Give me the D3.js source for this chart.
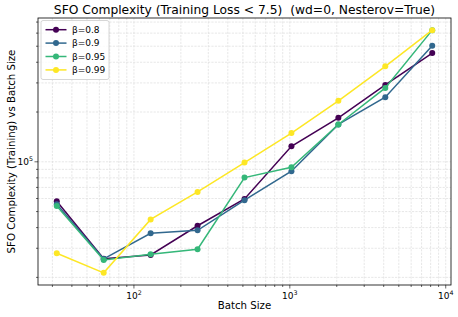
<!DOCTYPE html>
<html>
<head>
<meta charset="utf-8">
<script src="https://cdn.jsdelivr.net/npm/d3@7"></script>
<style>
  body { margin: 0; background: #fff; }
  svg { font-family: "DejaVu Sans", sans-serif; }
</style>
</head>
<body>
<div id="chart"></div>
<script>
const WIDTH = 458;
const HEIGHT = 317;
const margins = [38, 7, 18, 32]; // izquierda, derecha, arriba, abajo

// datos
const batchSizes = [32, 64, 128, 256, 512, 1024, 2048, 4096, 8192];
const betas = ["β=0.8", "β=0.9", "β=0.95", "β=0.99"];
const colores = ["#440154", "#31688e", "#35b779", "#fde725"];
const sfo_08 = [57800, 25970, 27350, 41050, 59600, 124000, 184600, 291800, 454600];
const sfo_09 = [55460, 25870, 36940, 38510, 58620, 87680, 168200, 245700, 503300];
const sfo_095 = [53950, 25520, 27600, 29580, 80300, 92660, 168200, 279900, 625600];
const sfo_099 = [28000, 21300, 44850, 65780, 98900, 149100, 233700, 377700, 625600];
const xTicks = [100, 1000, 10000];
const yTicks = [100000];

const series = [sfo_08, sfo_09, sfo_095, sfo_099].map((vals, i) => ({
  name: betas[i],
  color: colores[i],
  points: vals.map((v, j) => ({ x: batchSizes[j], y: v }))
}));

const SVG = d3.select("#chart").append("svg")
  .attr("width", WIDTH).attr("height", HEIGHT);

// dominios con 5% de margen en escala log (como matplotlib)
function logDomain(values) {
  const lo = Math.log10(d3.min(values)), hi = Math.log10(d3.max(values));
  const pad = (hi - lo) * 0.05;
  return [Math.pow(10, lo - pad), Math.pow(10, hi + pad)];
}
const allY = [].concat(sfo_08, sfo_09, sfo_095, sfo_099);

const x = d3.scaleLog()
  .domain(logDomain(batchSizes))
  .range([margins[0], WIDTH - margins[1]]);
const y = d3.scaleLog()
  .domain(logDomain(allY))
  .range([HEIGHT - margins[3], margins[2]]);

const plotLeft = margins[0], plotRight = WIDTH - margins[1];
const plotTop = margins[2], plotBottom = HEIGHT - margins[3];

// ticks menores
function minorTicks(domain) {
  const out = [];
  for (let e = Math.floor(Math.log10(domain[0])); e <= Math.ceil(Math.log10(domain[1])); e++) {
    for (let m = 1; m < 10; m++) {
      const v = m * Math.pow(10, e);
      if (v >= domain[0] && v <= domain[1]) out.push(v);
    }
  }
  return out;
}
const xAll = minorTicks(x.domain());
const yAll = minorTicks(y.domain());

// grilla
const grid = SVG.append("g");
grid.selectAll("line.gx").data(xAll).join("line")
  .attr("x1", d => x(d)).attr("x2", d => x(d))
  .attr("y1", plotTop).attr("y2", plotBottom)
  .attr("stroke", "#dcdcdc").attr("stroke-width", 0.7)
  .attr("stroke-dasharray", "2.2,1.2");
grid.selectAll("line.gy").data(yAll).join("line")
  .attr("y1", d => y(d)).attr("y2", d => y(d))
  .attr("x1", plotLeft).attr("x2", plotRight)
  .attr("stroke", "#dcdcdc").attr("stroke-width", 0.7)
  .attr("stroke-dasharray", "2.2,1.2");

// ejes
const xAxis = SVG.append("g").attr("transform", `translate(0,${plotBottom})`);
xAxis.selectAll("line").data(xAll).join("line")
  .attr("x1", d => x(d)).attr("x2", d => x(d))
  .attr("y1", 0).attr("y2", d => xTicks.includes(d) ? 3.5 : 2)
  .attr("stroke", "#000").attr("stroke-width", 0.6);
const xLab = xAxis.selectAll("text").data(xTicks.filter(d => d >= x.domain()[0] && d <= x.domain()[1]))
  .join("text")
  .attr("x", d => x(d)).attr("y", 14)
  .attr("text-anchor", "middle")
  .style("font-size", "9px");
xLab.append("tspan").text("10");
xLab.append("tspan").attr("dy", -4).style("font-size", "6.3px").text(d => Math.round(Math.log10(d)));

const yAxis = SVG.append("g").attr("transform", `translate(${plotLeft},0)`);
yAxis.selectAll("line").data(yAll).join("line")
  .attr("y1", d => y(d)).attr("y2", d => y(d))
  .attr("x1", 0).attr("x2", d => yTicks.includes(d) ? -3.5 : -2)
  .attr("stroke", "#000").attr("stroke-width", 0.6);
const yLab = yAxis.selectAll("text").data(yTicks).join("text")
  .attr("x", -5).attr("y", d => y(d) + 3)
  .attr("text-anchor", "end")
  .style("font-size", "9px");
yLab.append("tspan").text("10");
yLab.append("tspan").attr("dy", -4).style("font-size", "6.3px").text(d => Math.round(Math.log10(d)));

// lineas
const linea = d3.line().x(d => x(d.x)).y(d => y(d.y));
const lines = SVG.append("g");
series.forEach(s => {
  lines.append("path")
    .attr("d", linea(s.points))
    .attr("fill", "none")
    .attr("stroke", s.color)
    .attr("stroke-width", 1.5);
  lines.append("g").selectAll("circle").data(s.points).join("circle")
    .attr("cx", d => x(d.x)).attr("cy", d => y(d.y))
    .attr("r", 3).attr("fill", s.color);
});

// marco
SVG.append("rect")
  .attr("x", plotLeft).attr("y", plotTop)
  .attr("width", plotRight - plotLeft).attr("height", plotBottom - plotTop)
  .attr("fill", "none").attr("stroke", "#000").attr("stroke-width", 0.8);

// leyenda
const leg = SVG.append("g");
leg.append("rect")
  .attr("x", 41).attr("y", 20.5).attr("width", 68).attr("height", 59)
  .attr("rx", 2).attr("fill", "#fff").attr("fill-opacity", 0.8)
  .attr("stroke", "#cccccc").attr("stroke-width", 0.8);
series.forEach((s, i) => {
  const yy = 29.7 + i * 13.4;
  leg.append("line").attr("x1", 45.5).attr("x2", 66.5).attr("y1", yy).attr("y2", yy)
    .attr("stroke", s.color).attr("stroke-width", 1.5);
  leg.append("circle").attr("cx", 56).attr("cy", yy).attr("r", 3).attr("fill", s.color);
  leg.append("text").attr("x", 72).attr("y", yy + 3.2)
    .style("font-size", "9px").text(s.name);
});

// titulos
SVG.append("text")
  .attr("x", (plotLeft + plotRight) / 2).attr("y", 14)
  .attr("text-anchor", "middle")
  .attr("xml:space", "preserve")
  .style("font-size", "12.3px")
  .text("SFO Complexity (Training Loss < 7.5)  (wd=0, Nesterov=True)");
SVG.append("text")
  .attr("x", (plotLeft + plotRight) / 2).attr("y", 309)
  .attr("text-anchor", "middle")
  .style("font-size", "10.2px")
  .text("Batch Size");
SVG.append("text")
  .attr("transform", `translate(15,${(plotTop + plotBottom) / 2}) rotate(-90)`)
  .attr("text-anchor", "middle")
  .style("font-size", "10.2px")
  .text("SFO Complexity (Training) vs Batch Size");
</script>
</body>
</html>
